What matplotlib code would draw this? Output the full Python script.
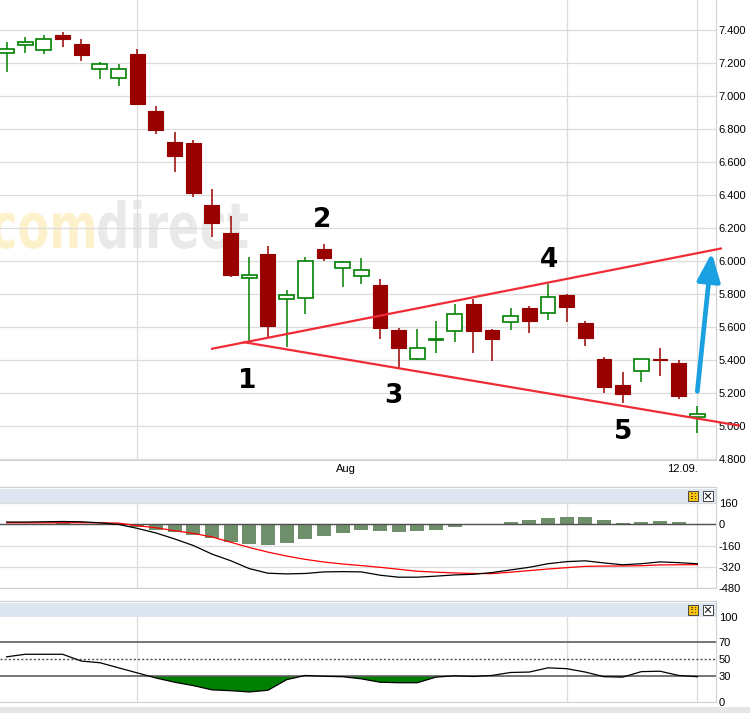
import numpy as np
import matplotlib
matplotlib.use("Agg")
import matplotlib.pyplot as plt
from matplotlib.patches import Rectangle, PathPatch, FancyArrowPatch
from matplotlib.textpath import TextPath
from matplotlib.font_manager import FontProperties
from matplotlib.transforms import Affine2D, blended_transform_factory

plt.rcParams['font.family'] = ['Liberation Sans', 'DejaVu Sans']
plt.rcParams['axes.unicode_minus'] = False

# DAX Tageskerzen 21.07. - 12.09.
opens  = [7265, 7309, 7279, 7371, 7317, 7164, 7109, 7256, 6911, 6723,
          6717, 6341, 6172, 5897, 6044, 5770, 5776, 6073, 5958, 5909,
          5857, 5584, 5410, 5526, 5576, 5741, 5584, 5630, 5715, 5687,
          5796, 5626, 5408, 5250, 5335, 5406, 5382, 5058]
highs  = [7327, 7359, 7371, 7390, 7347, 7210, 7196, 7287, 6941, 6784,
          6735, 6438, 6275, 6026, 6093, 5824, 6026, 6105, 6002, 6018,
          5891, 5594, 5590, 5638, 5741, 5770, 5588, 5715, 5729, 5863,
          5800, 5638, 5420, 5329, 5406, 5475, 5402, 5123]
lows   = [7145, 7264, 7258, 7301, 7214, 7105, 7064, 6950, 6773, 6541,
          6392, 6149, 5907, 5513, 5541, 5483, 5679, 6004, 5846, 5864,
          5531, 5347, 5404, 5446, 5513, 5446, 5398, 5586, 5567, 5644,
          5634, 5489, 5204, 5143, 5271, 5307, 5168, 4961]
closes = [7289, 7327, 7345, 7349, 7252, 7194, 7164, 6955, 6798, 6640,
          6416, 6234, 5919, 5915, 5610, 5794, 6000, 6022, 5994, 5946,
          5598, 5477, 5473, 5531, 5679, 5580, 5531, 5667, 5640, 5782,
          5725, 5537, 5240, 5194, 5406, 5401, 5186, 5073]

# MACD
macd   = [18, 18, 20, 22, 20, 12, 0, -30, -65, -110,
          -160, -225, -275, -335, -370, -375, -372, -360, -358, -360,
          -385, -400, -400, -392, -383, -378, -365, -345, -325, -298,
          -282, -276, -292, -306, -298, -284, -290, -298]
signal = [12, 12, 12, 13, 13, 12, 10, -10, -25, -48,
          -68, -95, -135, -175, -210, -240, -265, -285, -300, -312,
          -325, -340, -355, -362, -368, -372, -373, -362, -350, -338,
          -328, -318, -316, -315, -313, -307, -306, -305]
hist   = [3, 3, 5, 7, 4, 2, -3, -20, -45, -61,
          -83, -106, -136, -146, -159, -144, -114, -91, -68, -45,
          -53, -61, -53, -43, -20, -2, 2, 15, 30, 45,
          53, 53, 30, 10, 15, 23, 15, 2]

# RSI
rsi = [53, 56, 56, 56, 48, 46, 40, 34, 28, 23,
       19, 14, 13, 11.5, 13.5, 26, 31, 30, 29.5, 27,
       23, 22.4, 22.4, 29, 30.6, 29.8, 31, 34.5, 35, 40,
       39, 35, 29.5, 29, 35.5, 36, 31, 29.5]

price_ticks = list(range(4800, 7401, 200))
macd_ticks = [160, 0, -160, -320, -480]
rsi_ticks = [0, 30, 50, 70, 100]
grid_days = [7, 30, 37]

# Trendlinien (Tag, Kurs) und Markierungen 1-5
upper_line = [(10.95, 5469), (38.32, 6079)]
lower_line = [(12.66, 5511), (39.28, 5004)]
wave_labels = [("1", 12.88, 5275), ("2", 16.89, 6251), ("3", 20.70, 5184),
               ("4", 29.05, 6008), ("5", 33.02, 4964)]
arrow_from = (37.0, 5212)
arrow_to = (37.77, 6052)

W, H = 750, 713
def fx(px):
    return px / W
def fy(py):
    return 1 - py / H

fig = plt.figure(figsize=(7.5, 7.13), dpi=100)
fig.patch.set_facecolor('white')

days = np.arange(len(closes))
xlim = (-0.354, 38.0)
grid_col = '#dcdcdc'
frame_col = '#d0d0d0'

# ---------------- Kurs-Chart ----------------
ax = fig.add_axes([0, fy(460), fx(716), 460 / H])
ax.set_xlim(*xlim)
ax.set_ylim(4796, 7584)
ax.set_axisbelow(True)
ax.yaxis.tick_right()
ax.set_yticks(price_ticks)
ax.set_yticklabels([f"{v:,}".replace(",", ".") for v in price_ticks])
ax.set_xticks(grid_days)
ax.set_xticklabels([])
ax.tick_params(length=0, pad=2, labelsize=8)
ax.grid(True, color=grid_col, lw=0.9)
ax.axhline(7600, color=grid_col, lw=0.9)
for s in ['top', 'left']:
    ax.spines[s].set_visible(False)
for s in ['right', 'bottom']:
    ax.spines[s].set_color(frame_col)

# comdirect Wasserzeichen
fp = FontProperties(family='DejaVu Sans', weight='bold')
tp_com = TextPath((0, 0), 'com', size=1, prop=fp)
tp_dir = TextPath((tp_com.get_extents().x1 + 0.05, 0), 'direct', size=1, prop=fp)
e0, e1 = tp_com.get_extents(), tp_dir.get_extents()
sx = fx(256) / (e1.x1 - e0.x0)
sy = (48 / H) / e1.y1
tr = Affine2D().translate(-e0.x0, 0).scale(sx, sy).translate(fx(-8), fy(248)) + fig.transFigure
ax.add_patch(PathPatch(tp_com, transform=tr, fc='#fdf1cc', ec='none', zorder=0.2))
ax.add_patch(PathPatch(tp_dir, transform=tr, fc='#e9e9e9', ec='none', zorder=0.2))

# Kerzen
o = np.array(opens); c = np.array(closes)
up = c >= o
cols = np.where(up, '#008000', '#990000')
ax.vlines(days, lows, highs, colors=cols, lw=1.1, zorder=2)
ax.bar(days[up], (c - o)[up], bottom=o[up], width=0.8, color='white',
       edgecolor='#008000', lw=1.2, zorder=3)
ax.bar(days[~up], (c - o)[~up], bottom=o[~up], width=0.8, color='#990000',
       edgecolor='#990000', lw=0.8, zorder=3)

# Trendlinien, Pfeil, Ziffern
tl_col = '#ef2b36'
for line in (upper_line, lower_line):
    ax.plot([p[0] for p in line], [p[1] for p in line], color=tl_col, lw=1.6,
            clip_on=False, zorder=4, solid_capstyle='butt')
ax.add_patch(FancyArrowPatch(arrow_from, arrow_to,
                             arrowstyle='-|>,head_length=0.85,head_width=0.35',
                             mutation_scale=20, lw=3.4, color='#1ba1e2',
                             shrinkA=0, shrinkB=0, capstyle='round',
                             clip_on=False, zorder=5))
for t, xv, yv in wave_labels:
    ax.text(xv, yv, t, fontsize=19, fontweight='bold', family='DejaVu Sans',
            ha='center', va='center', zorder=5)

bt = blended_transform_factory(ax.transData, ax.transAxes)
ax.text(18.2, -9 / 460, 'Aug', transform=bt, ha='center', va='center', fontsize=8)
ax.text(37.05, -9 / 460, '12.09.', transform=bt, ha='right', va='center', fontsize=8)
# oberste Beschriftung, vom Rand angeschnitten
fig.text(fx(717.5), fy(-3.7), '7.600', ha='left', va='center', fontsize=8)

# ---------------- MACD ----------------
ax2 = fig.add_axes([0, fy(588), fx(716), 84.7 / H])
ax2.set_xlim(*xlim)
ax2.set_ylim(-482, 160)
ax2.set_axisbelow(True)
ax2.yaxis.tick_right()
ax2.set_yticks(macd_ticks)
ax2.set_yticklabels([str(v) for v in macd_ticks])
ax2.set_xticks(grid_days)
ax2.set_xticklabels([])
ax2.tick_params(length=0, pad=2, labelsize=8)
ax2.grid(True, color=grid_col, lw=0.9)
for s in ['top', 'left']:
    ax2.spines[s].set_visible(False)
for s in ['right', 'bottom']:
    ax2.spines[s].set_color(frame_col)
ax2.bar(days, hist, width=0.75, color='#6e8e6c', zorder=2)
ax2.axhline(0, color='#505050', lw=1, zorder=2.5)
ax2.plot(days, signal, color='#ff0000', lw=0.9, zorder=3)
ax2.plot(days, macd, color='black', lw=0.9, zorder=3)

# ---------------- RSI ----------------
ax3 = fig.add_axes([0, fy(701.7), fx(716), 84.7 / H])
ax3.set_xlim(*xlim)
ax3.set_ylim(0, 100)
ax3.set_axisbelow(True)
ax3.yaxis.tick_right()
ax3.set_yticks(rsi_ticks)
ax3.set_yticklabels([str(v) for v in rsi_ticks])
ax3.set_xticks(grid_days)
ax3.set_xticklabels([])
ax3.tick_params(length=0, pad=2, labelsize=8)
ax3.grid(True, axis='x', color=grid_col, lw=0.9)
for s in ['top', 'left']:
    ax3.spines[s].set_visible(False)
for s in ['right', 'bottom']:
    ax3.spines[s].set_color(frame_col)
r = np.array(rsi)
ax3.fill_between(days, r, 30, where=r < 30, interpolate=True, color='#008000', lw=0, zorder=2)
ax3.axhline(70, color='#505050', lw=1.1, zorder=2.5)
ax3.axhline(30, color='#505050', lw=1.1, zorder=2.5)
ax3.axhline(50, color='#505050', lw=1, ls=(0, (1.5, 1.5)), zorder=2.5)
ax3.plot(days, r, color='black', lw=0.9, zorder=3)

# Kopfleisten, Rahmen, Icons
def header(top, bottom):
    fig.add_artist(Rectangle((0, fy(bottom)), fx(716), (bottom - top) / H,
                             transform=fig.transFigure, fc='#dde6f0', ec='none'))
    fig.add_artist(plt.Line2D([0, fx(716)], [fy(top - 2)] * 2, transform=fig.transFigure,
                              color=frame_col, lw=0.9))
    fig.add_artist(plt.Line2D([fx(716)] * 2, [fy(top - 2), fy(bottom)], transform=fig.transFigure,
                              color=frame_col, lw=0.9))
    y0 = top + 2
    fig.add_artist(Rectangle((fx(688), fy(y0 + 10)), fx(10), 10 / H, transform=fig.transFigure,
                             fc='#f6c410', ec='#444444', lw=0.7))
    for dx in (691, 694.5):
        for dy in (3, 5.5, 8):
            fig.add_artist(Rectangle((fx(dx), fy(y0 + dy)), fx(1.5), 1 / H,
                                     transform=fig.transFigure, fc='#6b4a00', ec='none'))
    fig.add_artist(Rectangle((fx(703), fy(y0 + 10)), fx(10), 10 / H, transform=fig.transFigure,
                             fc='white', ec='#444444', lw=0.7))
    fig.add_artist(plt.Line2D([fx(705.5), fx(710.5)], [fy(y0 + 2.5), fy(y0 + 7.5)],
                              transform=fig.transFigure, color='#222222', lw=0.8))
    fig.add_artist(plt.Line2D([fx(705.5), fx(710.5)], [fy(y0 + 7.5), fy(y0 + 2.5)],
                              transform=fig.transFigure, color='#222222', lw=0.8))

header(489, 503.3)
header(602.7, 617)

fig.add_artist(Rectangle((0, 0), 1, 6 / H, transform=fig.transFigure, fc='#e6e6e6', ec='none'))

fig.savefig('out.png', dpi=100)
